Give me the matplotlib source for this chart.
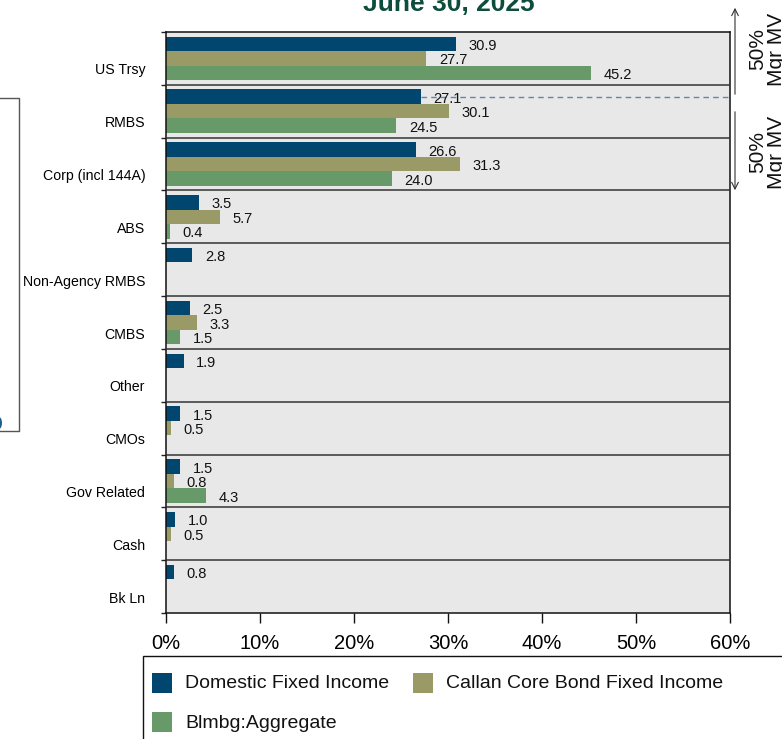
import matplotlib

matplotlib.use("Agg")
import matplotlib.pyplot as plt
import numpy as np
from matplotlib.patches import Rectangle, Ellipse
from matplotlib.lines import Line2D

plt.rcParams["font.family"] = ["Liberation Sans", "DejaVu Sans"]

# sector weights (% of market value), June 30, 2025
categories = ["US Trsy", "RMBS", "Corp (incl 144A)", "ABS", "Non-Agency RMBS",
              "CMBS", "Other", "CMOs", "Gov Related", "Cash", "Bk Ln"]
domestic = [30.9, 27.1, 26.6, 3.5, 2.8, 2.5, 1.9, 1.5, 1.5, 1.0, 0.8]
callan_core = [27.7, 30.1, 31.3, 5.7, 0.0, 3.3, 0.0, 0.5, 0.8, 0.5, 0.0]
blmbg_agg = [45.2, 24.5, 24.0, 0.4, 0.0, 1.5, 0.0, 0.0, 4.3, 0.0, 0.0]
series_names = ["Domestic Fixed Income", "Callan Core Bond Fixed Income",
                "Blmbg:Aggregate"]
x_ticks = [0, 10, 20, 30, 40, 50, 60]

COLORS = ["#00466e", "#9a9a66", "#679a68"]
W, H = 782, 739


def fx(px):
    return px / W


def fy(py):
    return 1 - py / H


fig = plt.figure(figsize=(W / 100, H / 100), dpi=100)
ax = fig.add_axes([fx(166), fy(613), fx(730) - fx(166), fy(32) - fy(613)])
ax.set_facecolor("#e8e8e8")

n = len(categories)
y = np.arange(n)
bh = 0.275
for k, vals in enumerate([domestic, callan_core, blmbg_agg]):
    pos = y + (k - 1) * bh
    ax.barh(pos, vals, height=bh, color=COLORS[k], edgecolor="none", zorder=2)
    for p, v in zip(pos, vals):
        if v > 0:
            ax.annotate(f"{v:.1f}", xy=(v, p), xytext=(9, -1.5),
                        textcoords="offset points", va="center", ha="left",
                        fontsize=10.5, color="#111111", zorder=4)

# row separators
for b in np.arange(0.5, n - 0.5):
    ax.axhline(b, color="#333333", lw=1.1, zorder=3)

# dashed guide from the RMBS domestic bar to the right edge
ax.hlines(1 - bh, domestic[1], 60, colors="#5f87a8", linestyles=(0, (4, 3)),
          lw=1.0, zorder=3)

ax.set_xlim(0, 60)
ax.set_ylim(n - 0.5, -0.5)
ax.set_xticks(x_ticks)
ax.set_xticklabels([f"{t}%" for t in x_ticks], fontsize=14.5)
ax.tick_params(axis="x", length=7, width=1, pad=8, color="#111111")

ax.set_yticks(np.arange(-0.5, n))
ax.set_yticklabels([])
ax.tick_params(axis="y", which="major", length=3.5, width=1, color="#222222")
ax.set_yticks(y + 0.2, minor=True)
ax.set_yticklabels(categories, minor=True, fontsize=10.2)
ax.tick_params(axis="y", which="minor", length=0, pad=15)

for s in ax.spines.values():
    s.set_color("#111111")
    s.set_linewidth(1.1)

fig.text(fx(449), fy(4), "June 30, 2025", ha="center", va="center",
         fontsize=19, fontweight="bold", color="#0d4d3d")

# manager MV brackets on the right
arrow_kw = dict(arrowstyle="->", color="#333333", lw=0.8, mutation_scale=12)
ax.annotate("", xy=(fx(735), fy(5)), xytext=(fx(735), fy(97)),
            xycoords="figure fraction", textcoords="figure fraction",
            arrowprops=arrow_kw, annotation_clip=False)
ax.annotate("", xy=(fx(735), fy(193)), xytext=(fx(735), fy(109)),
            xycoords="figure fraction", textcoords="figure fraction",
            arrowprops=arrow_kw, annotation_clip=False)
for cy in (49, 152):
    fig.text(fx(767), fy(cy), "50%\nMgr MV", rotation=90, ha="center",
             va="center", fontsize=15, linespacing=0.95, color="#111111")

# legend
fig.patches.append(Rectangle((fx(143), fy(745)), fx(800) - fx(143),
                             fy(656) - fy(745), transform=fig.transFigure,
                             facecolor="white", edgecolor="#111111", lw=1.0))
legend_pos = [(152, 683), (413, 683), (152, 722)]
for (lx, ly), name, c in zip(legend_pos, series_names, COLORS):
    fig.patches.append(Rectangle((fx(lx), fy(ly + 10)), fx(20), 20 / H,
                                 transform=fig.transFigure, facecolor=c,
                                 edgecolor="none"))
    fig.text(fx(lx + 33), fy(ly + 1), name, ha="left", va="center",
             fontsize=14, color="#111111")

# edge of the neighbouring panel
fig.lines.append(Line2D([0, fx(19), fx(19), 0], [fy(98), fy(98), fy(431), fy(431)],
                        transform=fig.transFigure, color="#555555", lw=1.0))
fig.patches.append(Ellipse((fx(-1), fy(423)), fx(6), 12 / H,
                           transform=fig.transFigure, facecolor="#1f5f8b",
                           edgecolor="none"))

fig.savefig("out.png", dpi=100)
